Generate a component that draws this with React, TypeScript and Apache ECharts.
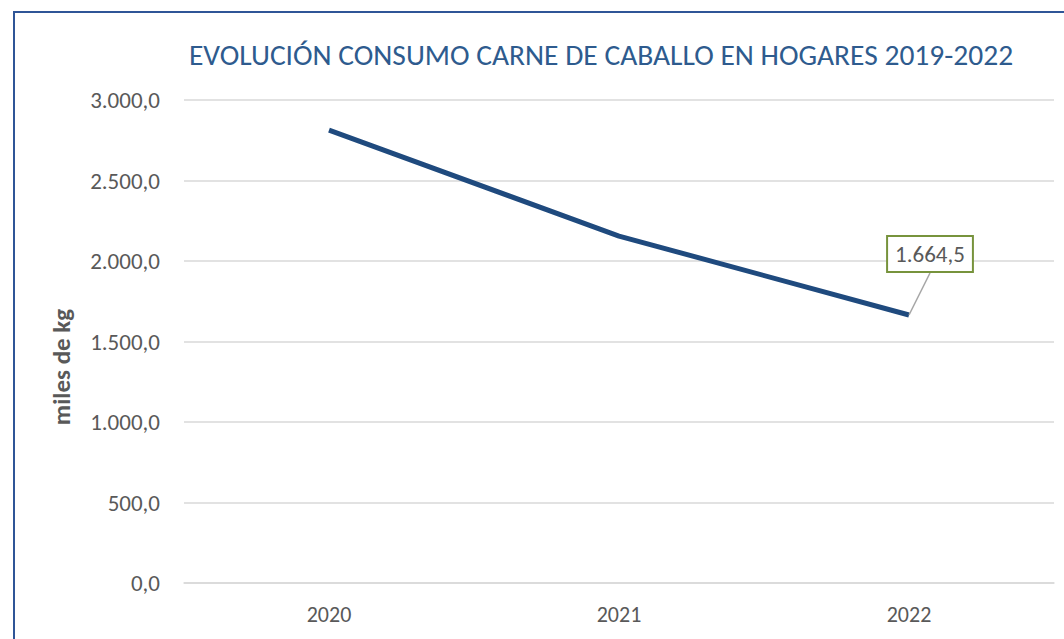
import React, { useEffect, useRef } from "react";
import * as echarts from "echarts";

const titleText = "EVOLUCIÓN CONSUMO CARNE DE CABALLO EN HOGARES 2019-2022";
const years = ["2020", "2021", "2022"];
const consumo = [2813, 2155, 1664.5];
const yAxisName = "miles de kg";

const FONT = "Carlito, Lato, 'Liberation Sans', sans-serif";

const fmt = (v: number) => {
  const fixed = v.toFixed(1);
  const [i, d] = fixed.split(".");
  return i.replace(/\B(?=(\d{3})+(?!\d))/g, ".") + "," + d;
};

export default function App() {
  const ref = useRef<HTMLDivElement>(null);
  useEffect(() => {
    if (!ref.current) return;
    const chart = echarts.init(ref.current, undefined, { renderer: "svg" });
    chart.setOption({
      animation: false,
      backgroundColor: "#ffffff",
      title: {
        text: titleText,
        left: 596,
        textAlign: "center",
        top: 35,
        textStyle: { fontFamily: FONT, fontSize: 29.5, fontWeight: "normal", color: "#2E5B8E" },
      },
      graphic: [
        {
          type: "rect",
          shape: { x: 14, y: 12, width: 1100, height: 700 },
          style: { fill: "none", stroke: "#2F5597", lineWidth: 2 },
          silent: true,
        },
        {
          type: "text",
          x: 61,
          y: 367,
          rotation: Math.PI / 2,
          style: {
            text: yAxisName,
            fontFamily: FONT,
            fontSize: 25,
            fontWeight: "bold",
            fill: "#595959",
            align: "center",
            verticalAlign: "middle",
          },
          silent: true,
        },
      ],
      grid: { left: 184, right: 10, top: 100, bottom: 56, containLabel: false },
      xAxis: {
        type: "category",
        data: years,
        boundaryGap: true,
        axisLine: { show: true, lineStyle: { color: "#D9D9D9", width: 1.5 } },
        axisTick: { show: false },
        axisLabel: { fontFamily: FONT, fontSize: 22, color: "#595959", margin: 20 },
      },
      yAxis: {
        type: "value",
        min: 0,
        max: 3000,
        interval: 500,
        axisLine: { show: false },
        axisTick: { show: false },
        axisLabel: { fontFamily: FONT, fontSize: 23, color: "#595959", margin: 24, formatter: (v: number) => fmt(v) },
        splitLine: { lineStyle: { color: "#D9D9D9", width: 1.5 } },
      },
      series: [
        {
          type: "line",
          data: consumo.map((v, i) =>
            i === consumo.length - 1
              ? {
                  value: v,
                  label: {
                    show: true,
                    position: "top",
                    formatter: (p: any) => fmt(p.value),
                    fontFamily: FONT,
                    fontSize: 23,
                    color: "#595959",
                    backgroundColor: "#ffffff",
                    borderColor: "#77933C",
                    borderWidth: 2,
                    padding: [6, 7, 5, 7],
                  },
                  labelLine: { show: true, lineStyle: { color: "#A6A6A6", width: 1.5 } },
                }
              : v
          ),
          showSymbol: true,
          symbol: "circle",
          symbolSize: 0.1,
          itemStyle: { color: "#1F4A7E" },
          lineStyle: { color: "#1F4A7E", width: 5 },
          label: { show: false },
          labelLine: { show: false },
          labelLayout: (params: any) =>
            params.dataIndex === consumo.length - 1 ? { dx: 21, dy: -39 } : {},
        },
      ],
    });
    return () => chart.dispose();
  }, []);
  return (
    <div
      ref={ref}
      style={{ position: "absolute", left: 0, top: 0, width: 1064, height: 639 }}
    />
  );
}
